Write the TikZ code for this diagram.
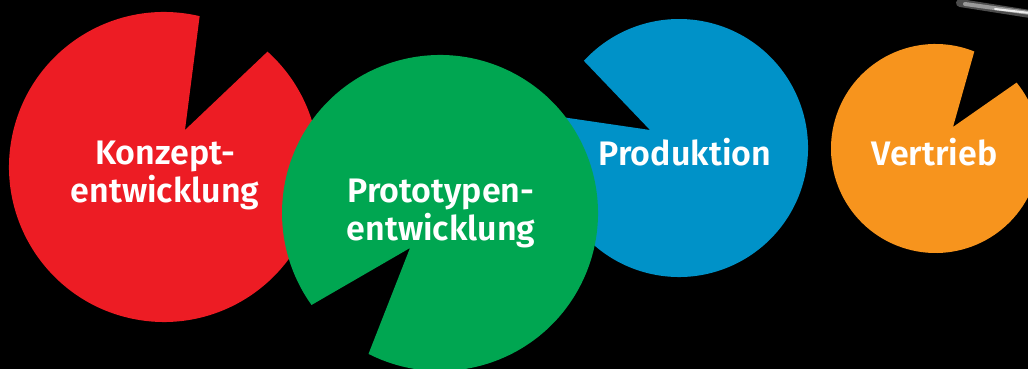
\documentclass[tikz,border=0pt]{standalone}
\usepackage{fontspec}
\setmainfont{Fira Sans}[BoldFont={Fira Sans SemiBold}]
\definecolor{kred}{HTML}{ED1C24}
\definecolor{kgreen}{HTML}{00A651}
\definecolor{kblue}{HTML}{0092C8}
\definecolor{korange}{HTML}{F7941D}
\begin{document}
\begin{tikzpicture}[x=1pt, y=1pt, every text node part/.style={align=center},
    phase/.style={text=white, inner sep=0pt, font=\bfseries\fontsize{34}{38}\selectfont}]
    % Background
    \fill[black] (0,0) rectangle (1028,369);
    \useasboundingbox (0,0) rectangle (1028,369);

    % Streak
    \draw[gray!60!black, line width=8pt, line cap=round] (960,366) -- (1030,355);
    \draw[gray!80, line width=4pt, line cap=round] (965,365) -- (1030,356);
    \draw[white!85!gray, line width=2pt, line cap=round] (995,360) -- (1030,356);

    % Discs
    \fill[kred] (164,202) ++(76.7:155) arc[start angle=76.7, end angle=408.1, radius=155]
      -- (185,239) -- cycle;
    \fill[kblue] (679,221) ++(165.6:129) arc[start angle=165.6, end angle=497.5, radius=129]
      -- (650,239) -- cycle;
    \fill[kgreen] (440,156) ++(243.1:158) arc[start angle=243.1, end angle=575.6, radius=158]
      -- (410,121) -- cycle;
    \fill[korange] (935.5,220.5) ++(68.2:104.5) arc[start angle=68.2, end angle=399.1, radius=104.5]
      -- (953,242) -- cycle;

    % Labels
    \node[phase] (konzept) at (165,194) {Konzept-\\entwicklung};
    \node[phase] (prototyp) at (441,156) {Prototypen-\\entwicklung};
    \node[phase, anchor=base] (produktion) at (685,203) {Produktion};
    \node[phase, anchor=base] (vertrieb) at (934.5,203) {Vertrieb};
  \end{tikzpicture}
\end{document}
